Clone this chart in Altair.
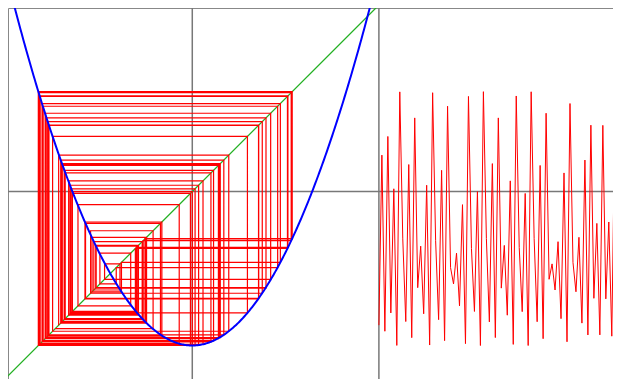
import altair as alt
import pandas as pd

# map parameter of x -> x^2 - C (vertex at -1.65)
C = 1.65

# orbit values (n = 0 .. 82)
orbit = [
    -1.432, 0.391, -1.497, 0.591, -1.301, 0.03, -1.649, 1.069, -0.507, -1.393,
    0.290, -1.566, 0.79, -1.03, -0.585, -1.31, 0.068, -1.645, 1.06, -0.526,
    -1.373, 0.228, -1.598, 0.915, -0.815, -0.99, -0.66, -1.225, -0.14, -1.630,
    1.02, -0.61, -1.285, 0.0, -1.65, 1.071, -0.503, -1.397, 0.30, -1.565,
    0.79, -1.035, -0.577, -1.325, 0.115, -1.638, 1.025, -0.599, -1.287, -0.02,
    -1.65, 1.07, -0.505, -1.395, 0.28, -1.577, 0.84, -0.94, -0.775, -1.055,
    -0.537, -1.362, 0.2, -1.61, 0.944, -0.759, -1.074, -0.49, -1.41, 0.338,
    -1.537, 0.712, -1.144, -0.341, -1.536, 0.71, -1.15, -0.326, -1.55, 0.75,
    -1.09, -0.42, -1.47,
]

# time series is drawn to the right of the square, starting at x = 2
T0 = 2.0
DT = 0.032

diag_x = [-2.1, 2.1]
vlines = [0, 2]
hlines = [0]

# cobweb path built from the orbit
px, py = [orbit[0]], [orbit[0]]
for a, b in zip(orbit[:-1], orbit[1:]):
    px += [a, b]
    py += [b, b]
cobweb = pd.DataFrame({"x": px, "y": py, "k": list(range(len(px)))})
series = pd.DataFrame({"n": list(range(len(orbit))), "v": orbit})

xs = alt.Scale(domain=[-1.975, 4.509], nice=False, zero=False)
ys = alt.Scale(domain=[-2.009, 1.968], nice=False, zero=False)

gray = "#787878"

rv = alt.Chart(pd.DataFrame({"x": vlines})).mark_rule(color=gray, strokeWidth=1.5).encode(
    x=alt.X("x:Q", scale=xs, axis=None)
)
rh = alt.Chart(pd.DataFrame({"y": hlines})).mark_rule(color=gray, strokeWidth=1.5).encode(
    y=alt.Y("y:Q", scale=ys, axis=None)
)

diag = alt.Chart(pd.DataFrame({"x": diag_x, "y": diag_x})).mark_line(
    color="#22b022", strokeWidth=1.3, clip=True
).encode(x=alt.X("x:Q", scale=xs, axis=None), y=alt.Y("y:Q", scale=ys, axis=None))

cob = alt.Chart(cobweb).mark_line(color="red", strokeWidth=1.2, clip=True).encode(
    x=alt.X("x:Q", scale=xs, axis=None),
    y=alt.Y("y:Q", scale=ys, axis=None),
    order="k:Q",
)

ts = (
    alt.Chart(series)
    .transform_calculate(t=f"{T0} + datum.n * {DT}")
    .mark_line(color="red", strokeWidth=1, clip=True)
    .encode(x=alt.X("t:Q", scale=xs, axis=None), y=alt.Y("v:Q", scale=ys, axis=None))
)

para = (
    alt.Chart(alt.sequence(-1.96, 1.961, 0.01, as_="x"))
    .transform_calculate(y=f"datum.x * datum.x - {C}")
    .mark_line(color="blue", strokeWidth=2, clip=True)
    .encode(x=alt.X("x:Q", scale=xs, axis=None), y=alt.Y("y:Q", scale=ys, axis=None))
)

chart = (
    alt.layer(rv, rh, diag, cob, ts, para)
    .properties(width=605, height=371, padding=0, autosize=alt.AutoSizeParams(type="none"))
    .configure_view(stroke="#888888", strokeWidth=1)
)

chart.save("out.html", embed_options={"renderer": "svg", "actions": False})
